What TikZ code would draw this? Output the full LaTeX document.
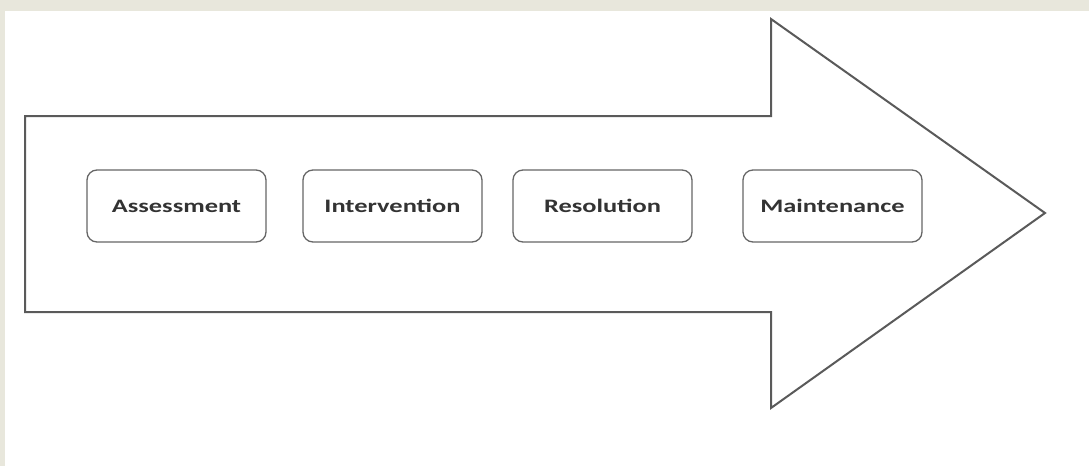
\documentclass[tikz,border=0pt]{standalone}
\usepackage{fontspec}
\setmainfont{Carlito}
\definecolor{frame}{HTML}{E8E7DC}
\definecolor{lineg}{HTML}{5A5A5A}
\definecolor{boxg}{HTML}{666666}
\definecolor{txt}{HTML}{333333}
\newcommand{\wide}[1]{\scalebox{1.39}[1]{#1}}
\begin{document}
\begin{tikzpicture}[x=1pt,y=-1pt,
  stage/.style={draw=boxg, line width=1.3pt, rounded corners=10pt, fill=white,
    minimum width=179pt, minimum height=72pt, inner sep=0pt, font=\fontsize{19}{22}\selectfont\bfseries, text=txt},
  bigarrow/.style={draw=lineg, line width=2pt, line join=miter}]
\useasboundingbox (0,0) rectangle (1089,466);
\fill[frame] (0,0) rectangle (1089,466);
\fill[white] (5,11) rectangle (1089,466);
\draw[bigarrow] (25,116) -- (771,116) -- (771,19) -- (1045,213) -- (771,408) -- (771,312) -- (25,312) -- cycle;
\node[stage] (a) at (176.5,206) {\wide{Assessment}};
\node[stage] (b) at (392.5,206) {\wide{Intervention}};
\node[stage] (c) at (602.5,206) {\wide{Resolution}};
\node[stage] (d) at (832.5,206) {\wide{Maintenance}};
\end{tikzpicture}
\end{document}
